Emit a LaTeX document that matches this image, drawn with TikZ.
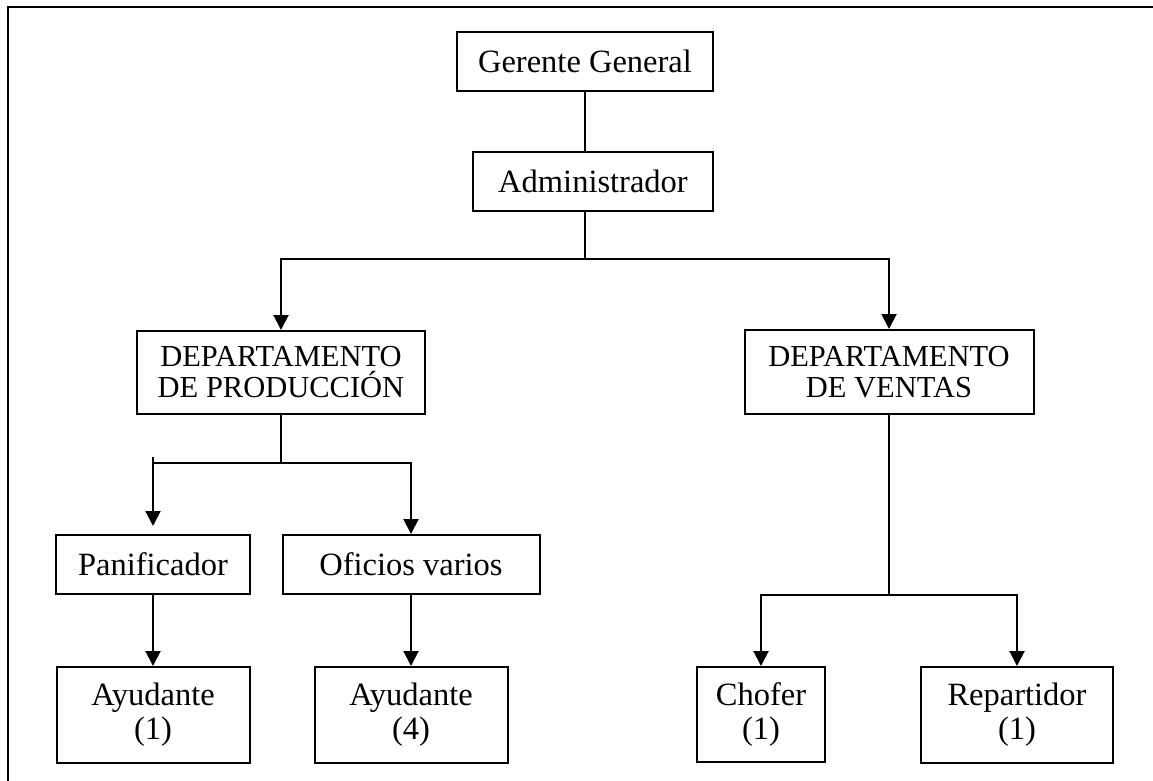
\documentclass[tikz,border=0pt]{standalone}
\usepackage{fontspec}
\setmainfont{Liberation Serif}
\usetikzlibrary{arrows.meta}
\begin{document}
\begin{tikzpicture}[x=1pt,y=-1pt,
  box/.style={draw, line width=2pt, inner sep=0pt, align=center,
              font=\fontsize{32.5}{34}\selectfont},
  deptbox/.style={box, font=\fontsize{30.5}{31}\selectfont},
  link/.style={line width=2pt},
  arr/.style={link, -{Triangle[width=15pt,length=15pt]}}]
\useasboundingbox (0,0) rectangle (1153,781);

% page frame (left and top edges)
\draw[line width=2.2pt] (8,781) -- (8,7) -- (1153,7);

% management
\node[box, minimum width=256, minimum height=59] (gg)  at (585,61.5)  {Gerente General};
\node[box, minimum width=240, minimum height=59] (adm) at (593,181.5) {Administrador};

% departments
\node[deptbox, minimum width=288, minimum height=83] (dprod) at (281,372.5)
  {DEPARTAMENTO\\DE PRODUCCIÓN};
\node[deptbox, minimum width=289, minimum height=84] (dvent) at (889,372)
  {DEPARTAMENTO\\DE VENTAS};

% production staff
\node[box, minimum width=194, minimum height=59] (pan) at (153,564.5) {Panificador};
\node[box, minimum width=257, minimum height=59] (ofi) at (411,564.5) {Oficios varios};
\node[box, minimum width=193, minimum height=96] (ay1) at (153,715)   {Ayudante\\(1)};
\node[box, minimum width=193, minimum height=96] (ay4) at (411,715)   {Ayudante\\(4)};

% sales staff
\node[box, minimum width=128, minimum height=95] (chof) at (761,714.5) {Chofer\\(1)};
\node[box, minimum width=192, minimum height=96] (rep)  at (1017,715)  {Repartidor\\(1)};

% junction points
\coordinate (j1) at (585,259);
\coordinate (j2) at (281,463);
\coordinate (t2) at (153,457);
\coordinate (j3) at (889,595);

% top of the chart
\draw[link] (gg.south) -- (gg.south |- adm.north);
\draw[link] (gg.south |- adm.south) -- (j1);
\draw[arr] (j1) -| (dprod.north);
\draw[arr] (j1) -| (dvent.north);

% production branch
\draw[link] (dprod.south) -- (j2);
\draw[link] (j2) -- (t2 |- j2);
\draw[arr, shorten >=8pt] (t2) -- (pan.north);
\draw[arr] (j2) -| (ofi.north);
\draw[arr] (pan.south) -- (ay1.north);
\draw[arr] (ofi.south) -- (ay4.north);

% sales branch
\draw[link] (dvent.south) -- (j3);
\draw[arr] (j3) -| (chof.north);
\draw[arr] (j3) -| (rep.north);
\end{tikzpicture}
\end{document}
